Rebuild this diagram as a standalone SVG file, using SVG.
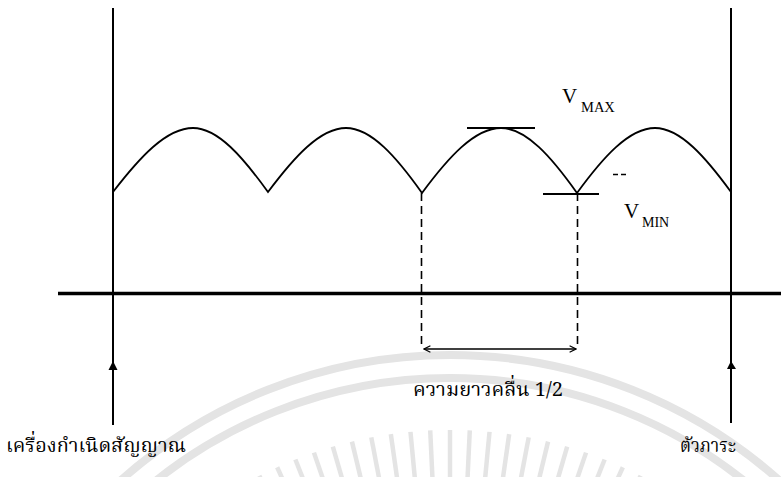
<svg xmlns="http://www.w3.org/2000/svg" width="781" height="477" viewBox="0 0 781 477">
<style>
.wm{fill:none;stroke:#e4e4e4;stroke-width:8}
.ray{stroke:#e4e4e4;stroke-width:4.5}
.ln{stroke:#000;fill:none}
.th{font-family:'Noto Serif Thai','Noto Sans Thai','Loma','Garuda','Liberation Serif',serif;fill:#000}
.tm{font-family:'Liberation Serif',serif;fill:#000}
</style>
<defs>
<marker id="open" viewBox="0 0 10 10" refX="9" refY="5" markerWidth="8" markerHeight="8" markerUnits="userSpaceOnUse" orient="auto-start-reverse">
<path d="M1,1 L9,5 L1,9" fill="none" stroke="#000" stroke-width="1.5"/>
</marker>
</defs>
<rect width="781" height="477" fill="#fff"/>
<g id="watermark">
<circle cx="450" cy="850" r="495" class="wm"/>
<circle cx="450" cy="850" r="472" class="wm"/>
<g class="ray" transform="translate(450,850)">
<line x1="0" y1="-420" x2="0" y2="-360" transform="rotate(-27)"/>
<line x1="0" y1="-420" x2="0" y2="-360" transform="rotate(-24.3)"/>
<line x1="0" y1="-420" x2="0" y2="-360" transform="rotate(-21.6)"/>
<line x1="0" y1="-420" x2="0" y2="-360" transform="rotate(-18.9)"/>
<line x1="0" y1="-420" x2="0" y2="-360" transform="rotate(-16.2)"/>
<line x1="0" y1="-420" x2="0" y2="-360" transform="rotate(-13.5)"/>
<line x1="0" y1="-420" x2="0" y2="-360" transform="rotate(-10.8)"/>
<line x1="0" y1="-420" x2="0" y2="-360" transform="rotate(-8.1)"/>
<line x1="0" y1="-420" x2="0" y2="-360" transform="rotate(-5.4)"/>
<line x1="0" y1="-420" x2="0" y2="-360" transform="rotate(-2.7)"/>
<line x1="0" y1="-420" x2="0" y2="-360"/>
<line x1="0" y1="-420" x2="0" y2="-360" transform="rotate(2.7)"/>
<line x1="0" y1="-420" x2="0" y2="-360" transform="rotate(5.4)"/>
<line x1="0" y1="-420" x2="0" y2="-360" transform="rotate(8.1)"/>
<line x1="0" y1="-420" x2="0" y2="-360" transform="rotate(10.8)"/>
<line x1="0" y1="-420" x2="0" y2="-360" transform="rotate(13.5)"/>
<line x1="0" y1="-420" x2="0" y2="-360" transform="rotate(16.2)"/>
<line x1="0" y1="-420" x2="0" y2="-360" transform="rotate(18.9)"/>
<line x1="0" y1="-420" x2="0" y2="-360" transform="rotate(21.6)"/>
<line x1="0" y1="-420" x2="0" y2="-360" transform="rotate(24.3)"/>
<line x1="0" y1="-420" x2="0" y2="-360" transform="rotate(27)"/>
</g>
</g>
<g id="connectors">
<line class="ln" x1="58" y1="293.5" x2="781" y2="293.5" stroke-width="3.5"/>
<line class="ln" x1="113" y1="8" x2="113" y2="425" stroke-width="2"/>
<line class="ln" x1="731" y1="8" x2="731" y2="423" stroke-width="2"/>
<path d="M113,361 L108.5,370 L117.5,370 Z" fill="#000"/>
<path d="M731,361 L727,369 L736,369 Z" fill="#000"/>
<path class="ln" stroke-width="1.8" d="M113,192 C139.7,157.4 166.3,128 193,128 C218,128 243,157.4 268,192 C294,157.4 320,128 346,128 C371.3,128 396.7,157.4 422,193 C448.3,157.4 474.7,128 501,128 C526.3,128 551.7,157.4 577,193 C603,157.4 629,128 655,128 C680.3,128 705.7,157.4 731,192"/>
<line class="ln" x1="467" y1="128" x2="535" y2="128" stroke-width="2"/>
<line class="ln" x1="543" y1="194" x2="599" y2="194" stroke-width="2"/>
<line class="ln" x1="613" y1="174.5" x2="627" y2="174.5" stroke-width="1.5" stroke-dasharray="5,3"/>
<line class="ln" x1="421.5" y1="193" x2="421.5" y2="349" stroke-width="1.6" stroke-dasharray="8,5"/>
<line class="ln" x1="577.5" y1="193" x2="577.5" y2="349" stroke-width="1.6" stroke-dasharray="8,5"/>
<line class="ln" x1="424" y1="349" x2="576" y2="349" stroke-width="1.6" marker-start="url(#open)" marker-end="url(#open)"/>
</g>
<g id="vmax">
<text class="tm" x="562" y="103" font-size="21">V</text>
<text class="tm" x="581" y="112" font-size="14.5">MAX</text>
</g>
<g id="vmin">
<text class="tm" x="624" y="218" font-size="21">V</text>
<text class="tm" x="642" y="227" font-size="14">MIN</text>
</g>
<g id="wavelength">
<text class="th" x="413" y="396" font-size="20" textLength="150" lengthAdjust="spacingAndGlyphs">ความยาวคลื่น 1/2</text>
</g>
<g id="generator">
<text class="th" x="6" y="452" font-size="20" textLength="180" lengthAdjust="spacingAndGlyphs">เครื่องกำเนิดสัญญาณ</text>
</g>
<g id="load">
<text class="th" x="680" y="452" font-size="20" textLength="56" lengthAdjust="spacingAndGlyphs">ตัวภาระ</text>
</g>
</svg>
